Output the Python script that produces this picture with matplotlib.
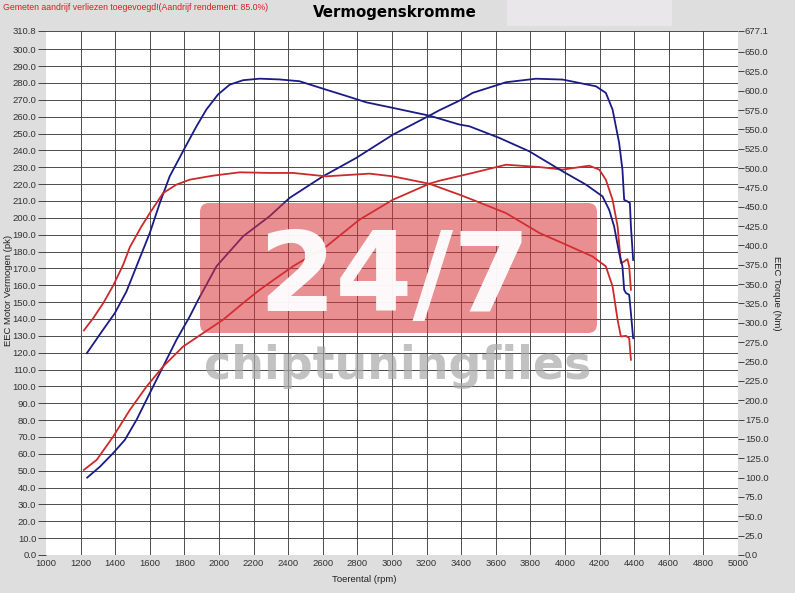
import matplotlib
matplotlib.use("Agg")
import matplotlib.pyplot as plt
from matplotlib.patches import FancyBboxPatch, Rectangle
from matplotlib.transforms import IdentityTransform
import numpy as np

# blue = power / torque (upper set), red = power / torque (lower set)
rpm_blue_pk = [1238, 1312, 1388, 1456, 1523, 1600, 1677, 1754, 1831, 1880, 1985, 2139, 2293, 2408,
               2601, 2793, 3005, 3216, 3274, 3390, 3466, 3659, 3832, 3986, 4179, 4236, 4275, 4313,
               4332, 4342, 4361, 4375, 4381, 4394]
blue_pk = [45.9, 52.4, 60.4, 68.3, 80.1, 96.0, 111.8, 127.6, 141.5, 151.4, 171.2, 189.0, 201.0, 211.8,
           224.6, 235.5, 249.3, 260.6, 263.8, 269.5, 274.1, 280.4, 282.5, 282.0, 278.0, 274.1, 264.2, 244.4,
           228.6, 210.7, 209.7, 208.8, 194.9, 175.0]

rpm_blue_nm = [1236, 1330, 1398, 1465, 1523, 1600, 1658, 1715, 1802, 1870, 1927, 1994, 2062, 2139,
               2235, 2350, 2465, 2619, 2754, 2850, 3004, 3216, 3390, 3447, 3620, 3794, 3986, 4121,
               4217, 4255, 4284, 4313, 4332, 4342, 4352, 4371, 4381, 4394]
blue_nm = [260.8, 291.1, 312.6, 340.5, 373.0, 416.1, 454.9, 489.3, 525.9, 554.0, 575.6, 595.0, 607.8, 613.5,
           615.5, 614.5, 612.2, 601.3, 591.9, 585.0, 577.8, 567.7, 556.2, 554.0, 539.0, 521.6, 495.8, 478.6,
           463.4, 446.2, 424.6, 390.2, 373.0, 342.7, 338.6, 336.2, 312.6, 280.2]

rpm_red_pk = [1219, 1293, 1388, 1485, 1581, 1677, 1792, 1908, 2023, 2139, 2235, 2427, 2620, 2812,
              3005, 3216, 3274, 3466, 3659, 3852, 3986, 4140, 4198, 4236, 4275, 4304, 4323, 4342,
              4361, 4371, 4381]
red_pk = [50.5, 56.4, 70.2, 86.1, 99.9, 111.8, 123.6, 131.6, 139.5, 149.4, 157.3, 171.2, 183.0, 198.9,
          210.7, 220.2, 222.0, 226.6, 231.5, 230.1, 228.6, 230.9, 228.6, 222.6, 210.7, 194.9, 173.2, 174.1,
          175.5, 171.2, 157.3]

rpm_red_nm = [1219, 1273, 1331, 1388, 1446, 1485, 1552, 1600, 1677, 1754, 1831, 1966, 2120, 2293,
              2427, 2620, 2870, 3005, 3216, 3390, 3466, 3659, 3852, 3986, 4159, 4236, 4275, 4304,
              4323, 4352, 4371, 4381]
red_nm = [290.2, 306.1, 325.5, 348.0, 375.0, 398.0, 424.6, 441.8, 467.7, 478.6, 485.0, 490.2, 494.5, 493.7,
          493.7, 489.3, 492.8, 489.3, 479.7, 465.6, 459.0, 441.8, 416.1, 403.0, 385.8, 373.0, 347.0, 303.9,
          282.3, 283.2, 280.2, 252.3]

pk_max = 310.8
nm_max = 677.1
x_ticks = list(range(1000, 5001, 200))
pk_ticks = [i * 10.0 for i in range(31)] + [pk_max]
nm_ticks = [i * 25.0 for i in range(27)] + [nm_max]

blue = "#1b1b86"
red = "#cc2a2a"
tick_font = "Liberation Sans"

fig = plt.figure(figsize=(7.95, 5.93), dpi=100, facecolor="#dedede")
ax = fig.add_axes([46 / 795, 38 / 593, 692 / 795, 524 / 593])
ax.set_facecolor("white")
ax.set_xlim(1000, 5000)
ax.set_ylim(0, pk_max)
for s in ax.spines.values():
    s.set_visible(False)

# grid
for v in pk_ticks[1:]:
    ax.axhline(v, color="#404040", lw=0.65, zorder=1)
for v in x_ticks[1:-1]:
    ax.axvline(v, color="#404040", lw=0.65, zorder=1)

ax.set_xticks(x_ticks)
ax.set_xticklabels([str(t) for t in x_ticks])
ax.set_yticks(pk_ticks)
ax.set_yticklabels(["%.1f" % t for t in pk_ticks])
ax.tick_params(axis="y", length=6, width=0.7, color="#444444", pad=1, labelsize=6.8, labelcolor="#333333")
ax.tick_params(axis="x", length=0, pad=3, labelsize=6.8, labelcolor="#333333")
for lab in ax.get_xticklabels() + ax.get_yticklabels():
    lab.set_fontfamily(tick_font)

ax2 = ax.twinx()
ax2.set_ylim(0, nm_max)
for s in ax2.spines.values():
    s.set_visible(False)
ax2.set_yticks(nm_ticks)
ax2.set_yticklabels(["%.1f" % t for t in nm_ticks])
ax2.tick_params(axis="y", length=4, width=0.7, color="#444444", pad=1, labelsize=6.8, labelcolor="#333333")
for lab in ax2.get_yticklabels():
    lab.set_fontfamily(tick_font)

ax.plot(rpm_blue_pk, blue_pk, color=blue, lw=1.3, zorder=3)
ax.plot(rpm_red_pk, red_pk, color=red, lw=1.3, zorder=3)
ax2.plot(rpm_blue_nm, blue_nm, color=blue, lw=1.3, zorder=3)
ax2.plot(rpm_red_nm, red_nm, color=red, lw=1.3, zorder=3)

# watermark (pixel positions)
fig.patches.append(FancyBboxPatch((200, 593 - 333), 397, 130,
                                  boxstyle="round,pad=0,rounding_size=9",
                                  transform=IdentityTransform(), facecolor=(0.85, 0.2, 0.22),
                                  alpha=0.55, edgecolor="none", zorder=5))
fig.text(394 / 795, 1 - 311 / 593, "24/7", fontsize=80, fontweight="bold", color="white",
         alpha=0.95, ha="center", va="baseline", zorder=6, family="DejaVu Sans")
fig.text(398 / 795, 1 - 379 / 593, "chiptuningfiles", fontsize=33, fontweight="bold",
         color="#a8a8a8", alpha=0.7, ha="center", va="baseline", zorder=6, family="DejaVu Sans")

# header
fig.patches.append(Rectangle((507, 593 - 26), 165, 26, transform=IdentityTransform(),
                             facecolor="#e9e7e9", edgecolor="none", zorder=0))
fig.text(395 / 795, 1 - 12 / 593, "Vermogenskromme", fontsize=10.8, fontweight="bold",
         ha="center", va="center", family="DejaVu Sans")
fig.text(3 / 795, 1 - 8 / 593, "Gemeten aandrijf verliezen toegevoegd!(Aandrijf rendement: 85.0%)",
         fontsize=6.3, color="#d42020", ha="left", va="center", family=tick_font)

fig.text(364 / 795, 1 - 580 / 593, "Toerental (rpm)", fontsize=6.8, ha="center", va="center",
         color="#222222", family=tick_font)
fig.text(9 / 795, 1 - 290 / 593, "EEC Motor Vermogen (pk)", fontsize=6.8, rotation=90,
         ha="center", va="center", color="#222222", family=tick_font)
fig.text(776 / 795, 1 - 293 / 593, "EEC Torque (Nm)", fontsize=6.8, rotation=-90,
         ha="center", va="center", color="#222222", family=tick_font)

fig.savefig("out.png", dpi=100, facecolor=fig.get_facecolor())
